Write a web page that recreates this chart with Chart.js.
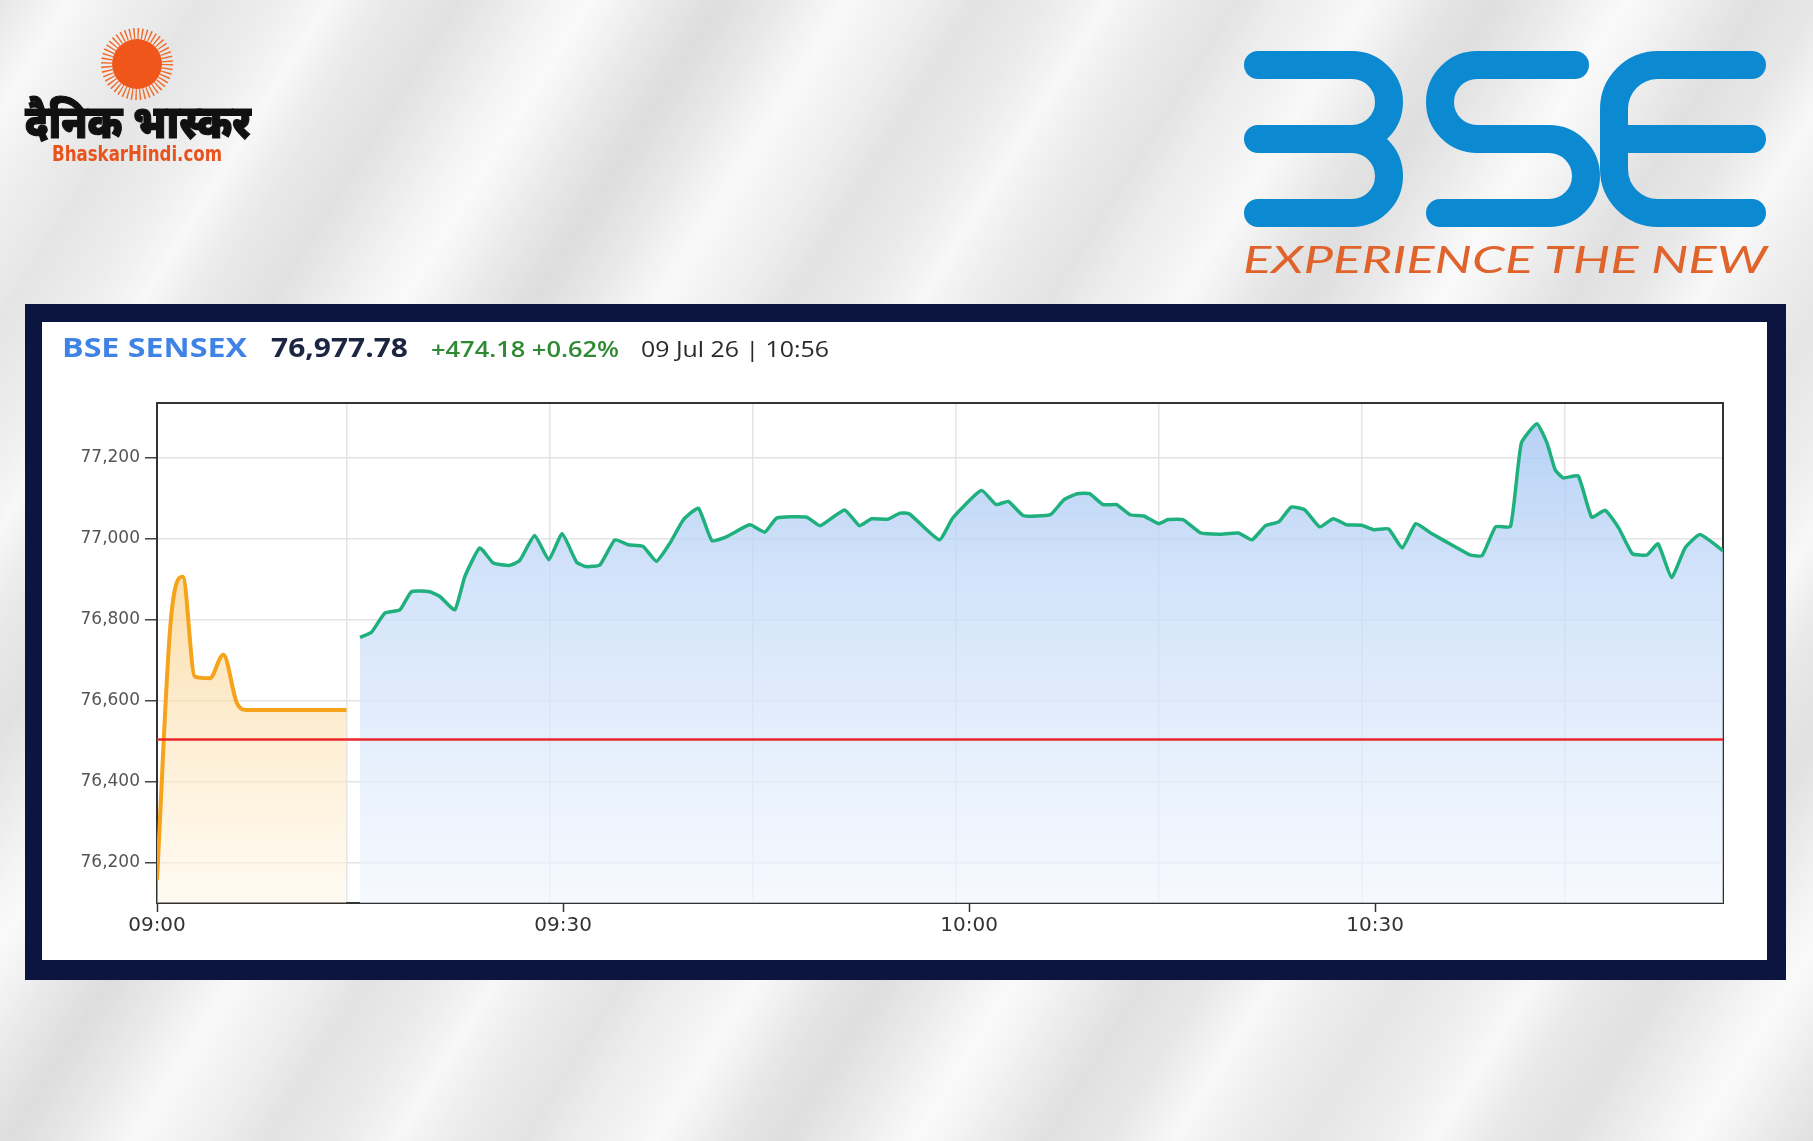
<!DOCTYPE html>
<html>
<head>
<meta charset="utf-8">
<script src="https://cdn.jsdelivr.net/npm/chart.js@4.4.1/dist/chart.umd.min.js"></script>
<style>
  html, body { margin: 0; padding: 0; }
  body {
    width: 1813px; height: 1141px; overflow: hidden; position: relative;
    background-color: #e6e6e6;
    background-image:
      repeating-linear-gradient(122deg, rgba(255,255,255,0) 0px, rgba(255,255,255,0.7) 60px, rgba(255,255,255,0) 120px, rgba(0,0,0,0.04) 170px, rgba(255,255,255,0) 220px),
      repeating-linear-gradient(122deg, rgba(255,255,255,0) 0px, rgba(255,255,255,0.35) 160px, rgba(255,255,255,0) 310px);
  }
  #frame { position: absolute; left: 25px; top: 304px; width: 1761px; height: 676px; background: #0b1540; }
  #panel { position: absolute; left: 42px; top: 322px; width: 1725px; height: 638px; background: #fff; }
  #overlay { position: absolute; left: 0; top: 0; }
</style>
</head>
<body>
<div id="frame"></div>
<div id="panel"><canvas id="sensexChart" width="1725" height="638"></canvas></div>

<svg id="overlay" width="1813" height="1141" xmlns="http://www.w3.org/2000/svg">
  <!-- Dainik Bhaskar logo -->
  <circle cx="137" cy="64" r="25" fill="#f0561a"/>
  <circle cx="137" cy="64" r="30.5" fill="none" stroke="#f26a2a" stroke-width="11" stroke-dasharray="1.4 2.6"/>
  <text x="25" y="138" font-family="'Noto Sans Devanagari','Lohit Devanagari','FreeSans',sans-serif" font-weight="900" font-size="47" textLength="226" lengthAdjust="spacingAndGlyphs" fill="#111" stroke="#111" stroke-width="1.2">दैनिक भास्कर</text>
  <text x="52" y="161" font-family="'DejaVu Sans Condensed','Liberation Sans Narrow',sans-serif" font-weight="bold" font-size="21" textLength="170" lengthAdjust="spacingAndGlyphs" fill="#e8531e">BhaskarHindi.com</text>

  <!-- BSE logo -->
  <g fill="none" stroke="#0b8ad2" stroke-width="28" stroke-linecap="round" stroke-linejoin="round">
    <path d="M1258 65 H1352 A37 37 0 0 1 1352 139 H1258 M1352 139 A37 37 0 0 1 1352 213 H1258"/>
    <path d="M1575 65 H1477 A37 37 0 0 0 1477 139 H1549 A37 37 0 0 1 1549 213 H1440"/>
    <path d="M1752 65 H1658 A44 44 0 0 0 1614 109 V169 A44 44 0 0 0 1658 213 H1752 M1614 139 H1752"/>
  </g>
  <text x="1243" y="273" font-family="'Lato','DejaVu Sans',sans-serif" font-weight="400" font-style="italic" font-size="37" textLength="524" lengthAdjust="spacingAndGlyphs" fill="#e0632b">EXPERIENCE THE NEW</text>

  <!-- chart header -->
  <text x="62" y="357" font-family="'Open Sans',sans-serif" font-weight="bold" font-size="26" textLength="185" lengthAdjust="spacingAndGlyphs" fill="#3f83e6">BSE SENSEX</text>
  <text x="271" y="357" font-family="'Open Sans',sans-serif" font-weight="bold" font-size="26" textLength="137" lengthAdjust="spacingAndGlyphs" fill="#1d2640">76,977.78</text>
  <text x="431" y="357" font-family="'Open Sans',sans-serif" font-weight="600" font-size="22" textLength="188" lengthAdjust="spacingAndGlyphs" fill="#2e8b34">+474.18 +0.62%</text>
  <text x="641" y="357" font-family="'Open Sans',sans-serif" font-size="22" textLength="188" lengthAdjust="spacingAndGlyphs" fill="#2a2a2a">09 Jul 26 | 10:56</text>
</svg>

<script>
// 盤前時段 09:00-09:14（分鐘數自 09:00 起算）
const preOpenMinutes = [0, 1, 1.9, 2.8, 3.9, 4.9, 5.9, 6.6, 14];
const preOpenValues = [76157, 76790, 76906, 76659, 76655, 76713, 76594, 76577, 76577];

// 正常交易時段 09:15 起
const sessionMinutes = [
  15.0, 15.85, 16.83, 17.94, 18.8, 20.15, 20.9, 22.0, 22.74, 23.85,
  24.84, 26.07, 26.8, 27.9, 28.95, 29.93, 31.0, 31.7, 32.72, 33.83,
  34.8, 35.9, 36.9, 37.9, 38.9, 40.0, 41.0, 42.1, 43.8, 44.9,
  45.8, 48.0, 49.0, 50.8, 51.9, 52.8, 54.0, 54.9, 55.6, 57.8,
  58.8, 60.9, 62.0, 62.9, 64.0, 66.0, 67.0, 68.0, 68.9, 69.9,
  70.9, 71.9, 72.9, 74.0, 74.7, 75.8, 77.1, 78.5, 79.9, 80.9,
  81.9, 82.9, 83.8, 84.8, 85.9, 86.9, 87.9, 89.0, 89.9, 91.0,
  92.0, 93.0, 94.1, 95.9, 97.0, 97.9, 98.9, 100.0, 100.8, 101.95,
  102.7, 103.3, 103.9, 105.0, 106.0, 107.0, 108.0, 109.0, 110.1, 110.9,
  111.9, 112.9, 114.0, 115.7
];
const sessionValues = [
  76756, 76769, 76816, 76824, 76869, 76869, 76857, 76824, 76906, 76977,
  76940, 76934, 76946, 77008, 76948, 77012, 76942, 76931, 76935, 76997,
  76985, 76981, 76944, 76989, 77047, 77075, 76995, 77005, 77034, 77016,
  77051, 77053, 77032, 77071, 77032, 77049, 77048, 77063, 77061, 76997,
  77051, 77119, 77084, 77092, 77057, 77059, 77096, 77111, 77111, 77084,
  77084, 77059, 77056, 77037, 77047, 77047, 77014, 77011, 77014, 76997,
  77032, 77042, 77078, 77071, 77029, 77049, 77034, 77033, 77022, 77024,
  76977, 77037, 77014, 76980, 76960, 76958, 77029, 77030, 77236, 77284,
  77236, 77170, 77150, 77155, 77053, 77070, 77026, 76963, 76960, 76987,
  76904, 76977, 77010, 76970
];

// 前收盤價
const prevClose = 76503.6;

// 軸刻度
const xTickMinutes = [0, 30, 60, 90];
const gridMinutes = [14, 29, 44, 59, 74, 89, 104];
const yTickValues = [76200, 76400, 76600, 76800, 77000, 77200];
const xMax = 115.7;
const yMin = 76100;
const yMax = 77335;

const toPoints = (xs, ys) => xs.map((x, i) => ({ x: x, y: ys[i] }));

const fmtTime = m => {
  const h = 9 + Math.floor(m / 60);
  const mm = m % 60;
  return String(h).padStart(2, '0') + ':' + String(mm).padStart(2, '0');
};

// 漸層填色
function fillGradient(stops) {
  return ctx => {
    const area = ctx.chart.chartArea;
    if (!area) return null;
    const g = ctx.chart.ctx.createLinearGradient(0, area.top, 0, area.bottom);
    stops.forEach(s => g.addColorStop(s[0], s[1]));
    return g;
  };
}

const ctx = document.getElementById('sensexChart').getContext('2d');

new Chart(ctx, {
  type: 'line',
  data: {
    datasets: [
      {
        label: 'Prev Close',
        data: [{ x: 0, y: prevClose }, { x: xMax, y: prevClose }],
        borderColor: '#e8262b',
        borderWidth: 2.5,
        pointRadius: 0,
        fill: false
      },
      {
        label: 'Session',
        data: toPoints(sessionMinutes, sessionValues),
        borderColor: '#1fb07e',
        borderWidth: 3.5,
        pointRadius: 0,
        tension: 0.15,
        fill: 'start',
        backgroundColor: fillGradient([
          [0, 'rgba(160,195,242,0.8)'],
          [0.35, 'rgba(196,218,248,0.75)'],
          [1, 'rgba(242,247,254,0.7)']
        ])
      },
      {
        label: 'Pre-open',
        data: toPoints(preOpenMinutes, preOpenValues),
        borderColor: '#f5a31a',
        borderWidth: 4,
        pointRadius: 0,
        cubicInterpolationMode: 'monotone',
        fill: 'start',
        backgroundColor: fillGradient([
          [0.3, 'rgba(250,205,130,0.7)'],
          [1, 'rgba(255,246,228,0.5)']
        ])
      }
    ]
  },
  options: {
    responsive: false,
    animation: false,
    layout: { padding: { top: 81, right: 44, bottom: 0, left: 0 } },
    plugins: {
      legend: { display: false },
      tooltip: { enabled: false }
    },
    scales: {
      x: {
        type: 'linear',
        position: 'bottom',
        min: 0,
        max: xMax,
        afterBuildTicks: axis => { axis.ticks = xTickMinutes.map(v => ({ value: v })); },
        afterFit: axis => { axis.height = 57; },
        grid: { drawOnChartArea: false, tickLength: 9, tickColor: '#333', tickWidth: 1.5 },
        border: { display: true, color: '#333', width: 2 },
        ticks: {
          autoSkip: false,
          maxRotation: 0,
          padding: 2,
          color: '#333',
          font: { family: 'DejaVu Sans', size: 20 },
          callback: v => fmtTime(v)
        }
      },
      xGrid: {
        type: 'linear',
        position: 'top',
        min: 0,
        max: xMax,
        afterBuildTicks: axis => { axis.ticks = gridMinutes.map(v => ({ value: v })); },
        afterFit: axis => { axis.height = 0; },
        grid: { color: '#e4e4ea', lineWidth: 1.5, drawTicks: false },
        border: { display: true, color: '#333', width: 2 },
        ticks: { display: false }
      },
      y: {
        type: 'linear',
        position: 'left',
        min: yMin,
        max: yMax,
        afterBuildTicks: axis => { axis.ticks = yTickValues.map(v => ({ value: v })); },
        afterFit: axis => { axis.width = 115; },
        grid: { color: '#e4e4e4', lineWidth: 1.5, tickLength: 12, tickColor: '#444' },
        border: { display: true, color: '#333', width: 2 },
        ticks: {
          padding: 5,
          color: '#555',
          font: { family: 'DejaVu Sans', size: 17 },
          callback: v => v.toLocaleString('en-US')
        }
      },
      yRight: {
        type: 'linear',
        position: 'right',
        min: yMin,
        max: yMax,
        afterFit: axis => { axis.width = 0; },
        grid: { drawOnChartArea: false, drawTicks: false },
        border: { display: true, color: '#333', width: 2 },
        ticks: { display: false }
      }
    }
  }
});
</script>
</body>
</html>
